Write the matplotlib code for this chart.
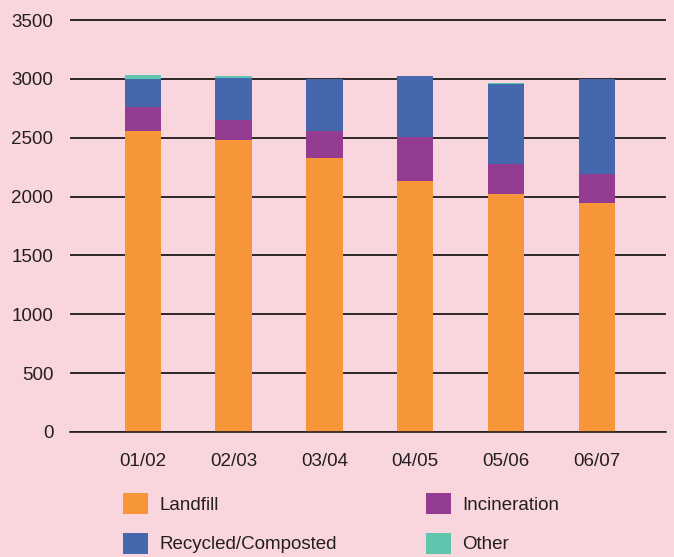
import matplotlib.pyplot as plt
import numpy as np

years = ["01/02", "02/03", "03/04", "04/05", "05/06", "06/07"]
landfill = [2560, 2480, 2330, 2135, 2025, 1945]
incineration = [197, 170, 230, 370, 255, 250]
recycled = [243, 357, 435, 520, 680, 805]
other = [34, 17, 0, 0, 8, 0]

bg = "#f9d5de"
plt.rcParams['font.family'] = ['Liberation Sans', 'DejaVu Sans']

fig = plt.figure(figsize=(6.74, 5.57), dpi=100, facecolor=bg)
# ylim goes a bit past 3500 so the top gridline isn't clipped
ax = fig.add_axes([70 / 674, 1 - 432 / 557, 596 / 674, 414 / 557])
ax.set_facecolor(bg)

x = np.arange(len(years))
w = 0.4
b1 = np.array(landfill)
b2 = b1 + np.array(incineration)
b3 = b2 + np.array(recycled)
ax.bar(x, landfill, w, color="#f79539", label="Landfill", zorder=3)
ax.bar(x, incineration, w, bottom=b1, color="#943c92", label="Incineration", zorder=3)
ax.bar(x, recycled, w, bottom=b2, color="#4467ae", label="Recycled/Composted", zorder=3)
ax.bar(x, other, w, bottom=b3, color="#5fc5ae", label="Other", zorder=3)

ax.set_ylim(0, 3517)
ax.set_xlim(-0.8, 5.76)
ax.set_yticks(range(0, 3501, 500))
ax.set_xticks(x)
ax.set_xticklabels(years)
ax.yaxis.grid(True, color="#2e2626", lw=1.4, zorder=1)
ax.tick_params(length=0, labelsize=13.5, colors="#231f20")
ax.tick_params(axis='y', pad=12)
ax.tick_params(axis='x', pad=15)
for s in ["top", "right", "left"]:
    ax.spines[s].set_visible(False)
ax.spines["bottom"].set_color("#231f20")
ax.spines["bottom"].set_linewidth(1.2)
ax.spines["bottom"].set_zorder(4)

h, l = ax.get_legend_handles_labels()
order = [0, 2, 1, 3]
fig.legend([h[i] for i in order], [l[i] for i in order], ncol=2, frameon=False,
           loc="upper left", bbox_to_anchor=(106 / 674, 1 - 476 / 557),
           fontsize=13.5, handlelength=1.35, handleheight=1.35, handletextpad=0.6,
           labelspacing=1.0, columnspacing=4.75, labelcolor="#231f20")

plt.savefig("out.png", dpi=100, facecolor=bg)
